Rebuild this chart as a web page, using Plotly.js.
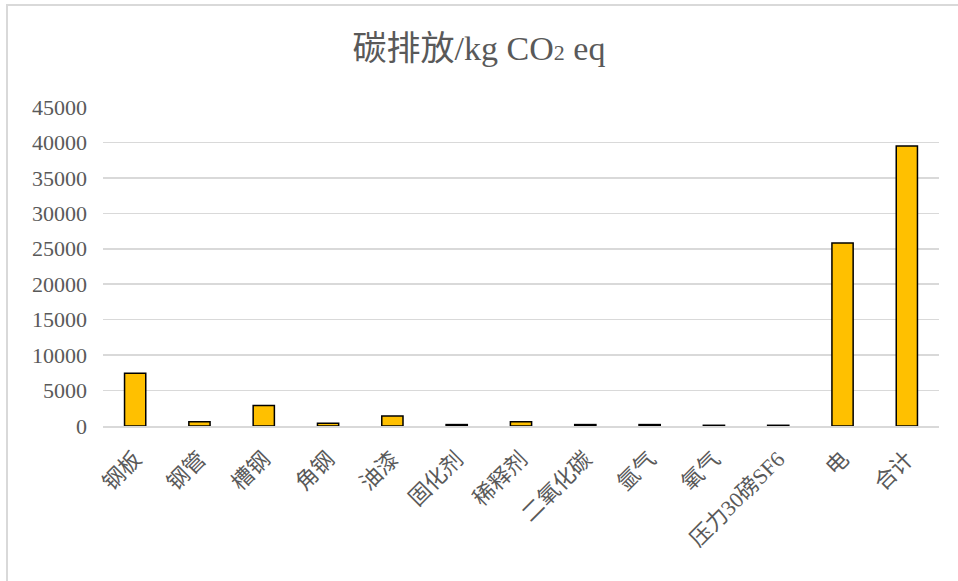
<!DOCTYPE html>
<html><head><meta charset="utf-8">
<script src="https://cdn.plot.ly/plotly-3.0.1.min.js"></script>
<style>
html,body{margin:0;padding:0;background:#fff;overflow:hidden;}
#frame{position:absolute;left:6px;top:4px;width:1000px;height:640px;border:2px solid #d9d9d9;}
#chart{position:absolute;left:0;top:0;width:958px;height:581px;}
</style></head>
<body>
<div id="frame"></div>
<div id="chart"></div>
<script>
const categories = ["钢板","钢管","槽钢","角钢","油漆","固化剂","稀释剂","二氧化碳","氩气","氧气","压力30磅SF6","电","合计"];
const emissions = [7450, 600, 2900, 400, 1400, 200, 600, 200, 200, 100, 100, 25800, 39500];
const yTicks = [0,5000,10000,15000,20000,25000,30000,35000,40000,45000];

const fontFam = '"Liberation Serif", "Times New Roman", "Noto Sans CJK SC", serif';
Plotly.newPlot('chart', [{
  type:'bar', x:categories, y:emissions,
  marker:{color:'#FFC000', line:{color:'#000', width:1.5}},
  hoverinfo:'x+y'
}], {
  width:958, height:581,
  paper_bgcolor:'rgba(0,0,0,0)', plot_bgcolor:'rgba(0,0,0,0)',
  margin:{l:103, r:19, t:107, b:155},
  bargap:0.67,
  title:{text:'碳排放/kg CO<span style="font-size:22px">2</span> eq', x:0.5, xanchor:'center', y:0.918, yanchor:'middle',
    font:{family:fontFam, size:34, color:'#595959'}},
  xaxis:{type:'category', tickangle:-45, tickfont:{family:fontFam, size:22, color:'#595959'},
    showline:true, linecolor:'#d9d9d9', linewidth:1.5, showgrid:false, ticks:'',
    ticklabelstandoff:10, automargin:false},
  yaxis:{range:[0,45000], tickvals:yTicks, ticktext:yTicks.map(String),
    tickfont:{family:fontFam, size:22, color:'#595959'},
    gridcolor:'#d9d9d9', gridwidth:1.5, zeroline:false, showline:false, ticks:'',
    ticklabelstandoff:15, automargin:false},
  showlegend:false
}, {displayModeBar:false, staticPlot:true});
</script>
</body></html>
